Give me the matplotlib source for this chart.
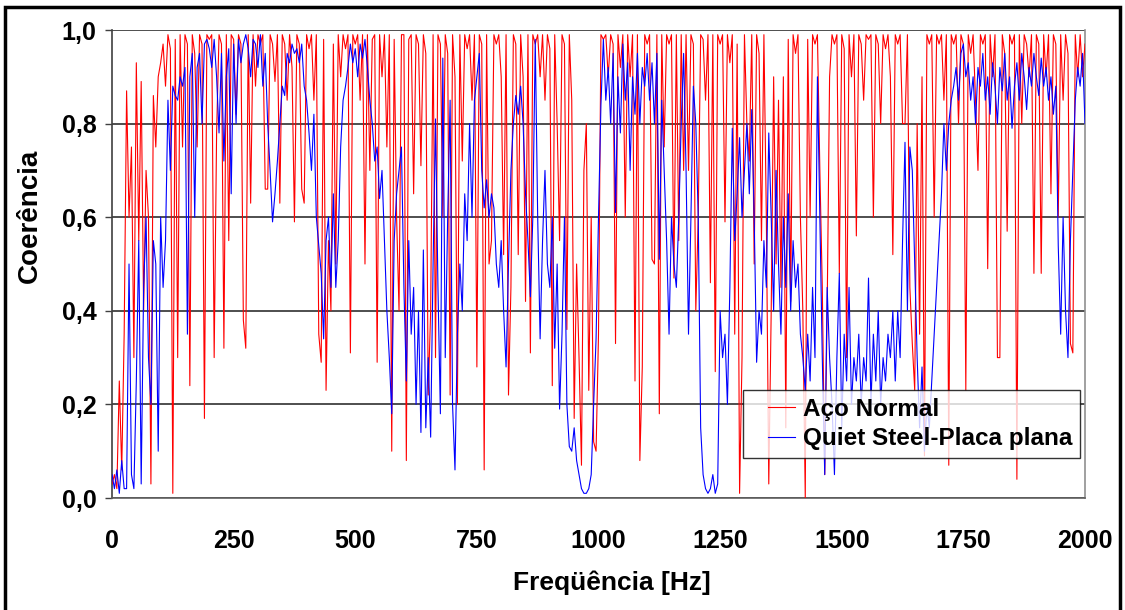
import numpy as np
import matplotlib
matplotlib.use("Agg")
import matplotlib.pyplot as plt
from matplotlib.patches import Rectangle
from matplotlib.lines import Line2D
from matplotlib.legend_handler import HandlerLine2D

plt.rcParams['font.family'] = ['Liberation Sans', 'DejaVu Sans']

# Frequency axis: 0 .. 2000 Hz, 5 Hz step
freq_step = 5
freq = np.arange(0, 2000 + freq_step, freq_step)

# Coherence, "Aço Normal" (one row per 100 Hz)
aco_normal = [
    0.03, 0.05, 0.02, 0.25, 0.06, 0.35, 0.87, 0.60, 0.75, 0.30, 0.93, 0.55, 0.89, 0.40, 0.70, 0.60, 0.03, 0.86, 0.75, 0.90,
    0.93, 0.97, 0.88, 0.99, 0.96, 0.01, 0.98, 0.30, 0.99, 0.75, 0.99, 0.97, 0.24, 0.99, 0.95, 0.75, 0.99, 0.97, 0.17, 0.99,
    0.98, 0.99, 0.30, 0.78, 0.99, 0.97, 0.32, 0.99, 0.55, 0.99, 0.98, 0.82, 0.99, 0.97, 0.38, 0.32, 0.99, 0.63, 0.99, 0.88,
    0.99, 0.97, 0.99, 0.66, 0.66, 0.99, 0.97, 0.89, 0.99, 0.63, 0.99, 0.97, 0.85, 0.99, 0.92, 0.59, 0.99, 0.97, 0.66, 0.63,
    0.99, 0.96, 0.99, 0.85, 0.99, 0.35, 0.29, 0.98, 0.23, 0.55, 0.40, 0.97, 0.50, 0.99, 0.90, 0.99, 0.96, 0.99, 0.31, 0.99,
    0.97, 0.99, 0.85, 0.99, 0.50, 0.99, 0.70, 0.98, 0.99, 0.29, 0.99, 0.90, 0.99, 0.75, 0.99, 0.10, 0.98, 0.60, 0.40, 0.99,
    0.99, 0.08, 0.98, 0.99, 0.65, 0.99, 0.97, 0.71, 0.99, 0.95, 0.22, 0.40, 0.99, 0.30, 0.99, 0.97, 0.60, 0.99, 0.95, 0.22,
    0.99, 0.90, 0.20, 0.99, 0.72, 0.99, 0.96, 0.99, 0.85, 0.99, 0.28, 0.99, 0.97, 0.06, 0.99, 0.50, 0.55, 0.99, 0.97, 0.99,
    0.90, 0.52, 0.99, 0.22, 0.45, 0.99, 0.97, 0.52, 0.99, 0.90, 0.42, 0.99, 0.31, 0.99, 0.97, 0.99, 0.90, 0.99, 0.85, 0.99,
    0.96, 0.24, 0.99, 0.80, 0.55, 0.99, 0.97, 0.36, 0.99, 0.85, 0.17, 0.50, 0.30, 0.07, 0.70, 0.80, 0.23, 0.60, 0.12, 0.10,
    0.35, 0.99, 0.98, 0.99, 0.90, 0.99, 0.97, 0.33, 0.99, 0.92, 0.99, 0.60, 0.99, 0.90, 0.99, 0.25, 0.99, 0.08, 0.28, 0.99,
    0.97, 0.99, 0.51, 0.50, 0.99, 0.18, 0.99, 0.75, 0.99, 0.97, 0.99, 0.47, 0.99, 0.55, 0.99, 0.70, 0.99, 0.70, 0.99, 0.97,
    0.40, 0.60, 0.99, 0.98, 0.85, 0.99, 0.46, 0.99, 0.27, 0.99, 0.97, 0.99, 0.59, 0.99, 0.93, 0.99, 0.35, 0.97, 0.01, 0.30,
    0.99, 0.80, 0.72, 0.99, 0.50, 0.99, 0.95, 0.55, 0.99, 0.60, 0.03, 0.40, 0.90, 0.50, 0.85, 0.45, 0.90, 0.15, 0.98, 0.42,
    0.99, 0.95, 0.99, 0.60, 0.40, 0.00, 0.98, 0.60, 0.99, 0.97, 0.99, 0.70, 0.45, 0.05, 0.40, 0.90, 0.99, 0.97, 0.99, 0.48,
    0.99, 0.96, 0.30, 0.99, 0.90, 0.99, 0.56, 0.99, 0.97, 0.85, 0.99, 0.98, 0.99, 0.60, 0.99, 0.97, 0.80, 0.99, 0.96, 0.99,
    0.90, 0.52, 0.99, 0.97, 0.99, 0.80, 0.80, 0.99, 0.45, 0.33, 0.23, 0.80, 0.35, 0.90, 0.09, 0.99, 0.97, 0.99, 0.60, 0.99,
    0.97, 0.99, 0.85, 0.99, 0.07, 0.99, 0.97, 0.99, 0.80, 0.99, 0.97, 0.23, 0.99, 0.95, 0.99, 0.85, 0.70, 0.99, 0.97, 0.99,
    0.49, 0.99, 0.90, 0.99, 0.30, 0.30, 0.99, 0.95, 0.57, 0.99, 0.97, 0.99, 0.04, 0.99, 0.80, 0.99, 0.97, 0.90, 0.99, 0.48,
    0.99, 0.97, 0.48, 0.99, 0.90, 0.99, 0.65, 0.99, 0.97, 0.60, 0.99, 0.85, 0.99, 0.95, 0.33, 0.31, 0.99, 0.90, 0.99, 0.90,
    0.97,
]

# Coherence, "Quiet Steel-Placa plana" (one row per 100 Hz)
quiet_steel = [
    0.05, 0.02, 0.06, 0.01, 0.08, 0.02, 0.02, 0.50, 0.05, 0.02, 0.25, 0.55, 0.03, 0.45, 0.60, 0.30, 0.20, 0.55, 0.50, 0.10,
    0.60, 0.45, 0.55, 0.85, 0.70, 0.88, 0.86, 0.85, 0.90, 0.88, 0.92, 0.35, 0.90, 0.95, 0.60, 0.92, 0.95, 0.80, 0.97, 0.98,
    0.96, 0.92, 0.98, 0.90, 0.78, 0.95, 0.72, 0.90, 0.96, 0.65, 0.97, 0.80, 0.98, 0.93, 0.97, 0.99, 0.96, 0.90, 0.98, 0.97,
    0.92, 0.99, 0.88, 0.95, 0.80, 0.70, 0.59, 0.65, 0.72, 0.80, 0.88, 0.86, 0.95, 0.93, 0.97, 0.95, 0.96, 0.93, 0.97, 0.88,
    0.85, 0.78, 0.70, 0.82, 0.60, 0.54, 0.48, 0.34, 0.55, 0.60, 0.45, 0.65, 0.45, 0.55, 0.75, 0.85, 0.88, 0.92, 0.97, 0.93,
    0.96, 0.90, 0.97, 0.94, 0.98, 0.92, 0.85, 0.80, 0.72, 0.75, 0.64, 0.70, 0.55, 0.40, 0.30, 0.18, 0.55, 0.65, 0.70, 0.75,
    0.45, 0.25, 0.55, 0.35, 0.45, 0.20, 0.40, 0.14, 0.53, 0.15, 0.30, 0.13, 0.50, 0.81, 0.45, 0.18, 0.94, 0.30, 0.60, 0.85,
    0.20, 0.06, 0.35, 0.50, 0.40, 0.65, 0.55, 0.80, 0.60, 0.85, 0.90, 0.95, 0.70, 0.62, 0.68, 0.60, 0.65, 0.62, 0.50, 0.45,
    0.55, 0.40, 0.28, 0.50, 0.70, 0.80, 0.86, 0.82, 0.88, 0.80, 0.65, 0.55, 0.43, 0.60, 0.98, 0.60, 0.34, 0.55, 0.70, 0.50,
    0.45, 0.60, 0.32, 0.50, 0.19, 0.35, 0.60, 0.20, 0.11, 0.10, 0.15, 0.08, 0.05, 0.02, 0.01, 0.01, 0.02, 0.05, 0.20, 0.34,
    0.60, 0.84, 0.98, 0.85, 0.92, 0.80, 0.95, 0.61, 0.90, 0.78, 0.97, 0.85, 0.93, 0.70, 0.90, 0.82, 0.95, 0.80, 0.92, 0.88,
    0.95, 0.85, 0.93, 0.80, 0.95, 0.51, 0.85, 0.70, 0.55, 0.35, 0.60, 0.50, 0.45, 0.60, 0.80, 0.95, 0.70, 0.35, 0.60, 0.88,
    0.80, 0.60, 0.15, 0.05, 0.02, 0.01, 0.02, 0.05, 0.01, 0.03, 0.40, 0.30, 0.35, 0.20, 0.45, 0.79, 0.55, 0.65, 0.77, 0.60,
    0.70, 0.80, 0.65, 0.83, 0.60, 0.29, 0.40, 0.35, 0.55, 0.45, 0.78, 0.60, 0.40, 0.70, 0.50, 0.35, 0.60, 0.45, 0.65, 0.40,
    0.55, 0.45, 0.50, 0.35, 0.30, 0.23, 0.35, 0.25, 0.45, 0.30, 0.90, 0.60, 0.30, 0.05, 0.45, 0.30, 0.20, 0.05, 0.30, 0.48,
    0.15, 0.35, 0.25, 0.45, 0.20, 0.30, 0.25, 0.35, 0.20, 0.30, 0.25, 0.47, 0.20, 0.35, 0.25, 0.40, 0.20, 0.30, 0.25, 0.35,
    0.30, 0.40, 0.25, 0.40, 0.30, 0.55, 0.76, 0.40, 0.75, 0.70, 0.50, 0.30, 0.15, 0.28, 0.10, 0.20, 0.15, 0.25, 0.35, 0.45,
    0.55, 0.65, 0.80, 0.70, 0.80, 0.85, 0.88, 0.92, 0.85, 0.95, 0.97, 0.90, 0.93, 0.85, 0.90, 0.80, 0.92, 0.88, 0.95, 0.85,
    0.90, 0.82, 0.93, 0.88, 0.80, 0.92, 0.87, 0.95, 0.85, 0.90, 0.79, 0.88, 0.93, 0.85, 0.95, 0.90, 0.83, 0.92, 0.88, 0.95,
    0.90, 0.86, 0.94, 0.88, 0.92, 0.85, 0.90, 0.82, 0.88, 0.54, 0.35, 0.60, 0.40, 0.30, 0.55, 0.70, 0.85, 0.92, 0.88, 0.95,
    0.80,
]

series_labels = ["Aço Normal", "Quiet Steel-Placa plana"]
x_ticks = [0, 250, 500, 750, 1000, 1250, 1500, 1750, 2000]
y_ticks = [0.0, 0.2, 0.4, 0.6, 0.8, 1.0]
y_tick_labels = ["0,0", "0,2", "0,4", "0,6", "0,8", "1,0"]

W, H = 1125, 610
fig = plt.figure(figsize=(W / 100, H / 100), dpi=100)
fig.patch.set_facecolor("white")

# outer frame around the whole chart
fig.patches.append(Rectangle((5 / W, -0.05), 1115 / W, 1.05 - 7 / H,
                             transform=fig.transFigure, fill=False,
                             edgecolor="black", linewidth=2.5))

ax = fig.add_axes([112 / W, 1 - 498 / H, 973 / W, 468 / H])
ax.plot(freq, aco_normal, color="#ff0000", linewidth=0.8, label=series_labels[0], zorder=3)
ax.plot(freq, quiet_steel, color="#0000ff", linewidth=0.8, label=series_labels[1], zorder=4)

ax.set_xlim(0, 2000)
ax.set_ylim(0, 1.0)
ax.set_xticks(x_ticks)
ax.set_xticklabels([str(t) for t in x_ticks], fontsize=18, fontweight="bold")
ax.set_yticks(y_ticks)
ax.set_yticklabels(y_tick_labels, fontsize=18, fontweight="bold")
ax.tick_params(axis="x", length=0, pad=22)
ax.tick_params(axis="y", length=5, width=1, color="#404040", pad=6, direction="out")

ax.yaxis.grid(True, color="#303030", linewidth=1.2, zorder=1)
ax.set_axisbelow(True)
ax.spines["top"].set_visible(False)
ax.spines["left"].set_color("#404040")
ax.spines["right"].set_color("#909090")
ax.spines["bottom"].set_color("#606060")
for side in ["left", "right", "bottom"]:
    ax.spines[side].set_linewidth(1.2)

fig.text(30 / W, 1 - 216 / H, "Coerência", rotation=90, fontsize=20,
         fontweight="bold", ha="center", va="center")
fig.text(612 / W, 1 - 583 / H, "Freqüência [Hz]", fontsize=19,
         fontweight="bold", ha="center", va="center")

leg = ax.legend(loc="upper left", bbox_to_anchor=((743 - 112) / 973, (498 - 390) / 468),
                prop={"size": 17.5, "weight": "bold"}, frameon=True, fancybox=False,
                handlelength=1.83, handletextpad=0.33, borderpad=0.32, labelspacing=0.27,
                borderaxespad=0, handler_map={Line2D: HandlerLine2D(xpad=0.72)})
leg.get_frame().set_edgecolor("black")
leg.get_frame().set_linewidth(1.0)
leg.set_zorder(10)

fig.savefig("out.png", dpi=100, facecolor="white")
